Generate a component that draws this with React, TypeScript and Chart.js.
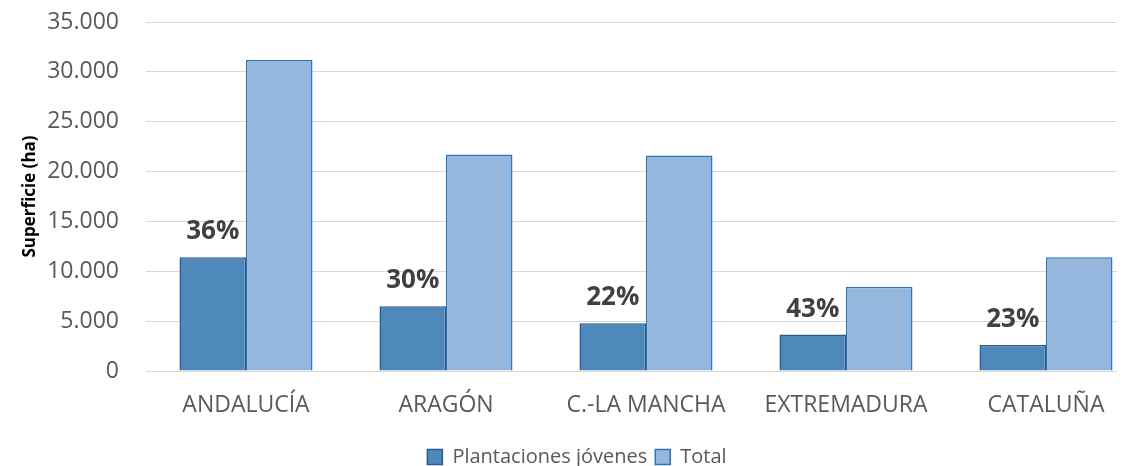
import React, { useEffect, useRef } from "react";
import { Chart, registerables } from "chart.js";

Chart.register(...registerables);

const categories = ["ANDALUCÍA", "ARAGÓN", "C.-LA MANCHA", "EXTREMADURA", "CATALUÑA"];
const youngPlantations = [11400, 6500, 4800, 3650, 2600];
const totalArea = [31200, 21700, 21600, 8450, 11400];
const shareLabels = ["36%", "30%", "22%", "43%", "23%"];
const seriesNames = ["Plantaciones jóvenes", "Total"];

const FONT = "'Open Sans', 'Noto Sans', sans-serif";

const shareLabelPlugin = {
  id: "shareLabels",
  afterDatasetsDraw(chart: any) {
    const meta = chart.getDatasetMeta(0);
    const ctx = chart.ctx;
    ctx.save();
    ctx.font = `bold 26px ${FONT}`;
    ctx.fillStyle = "#404040";
    ctx.textAlign = "center";
    ctx.textBaseline = "alphabetic";
    meta.data.forEach((bar: any, i: number) => {
      ctx.fillText(shareLabels[i], bar.x, bar.y - 18);
    });
    ctx.restore();
  },
};

export default function App() {
  const ref = useRef<HTMLCanvasElement | null>(null);

  useEffect(() => {
    if (!ref.current) return;
    const chart = new Chart(ref.current, {
      type: "bar",
      data: {
        labels: categories,
        datasets: [
          {
            label: seriesNames[0],
            data: youngPlantations,
            backgroundColor: "#4F88BB",
            borderColor: "#2C5A8A",
            borderWidth: 1.5,
            categoryPercentage: 0.665,
            barPercentage: 1,
          },
          {
            label: seriesNames[1],
            data: totalArea,
            backgroundColor: "#95B7DE",
            borderColor: "#2E75B6",
            borderWidth: 1.5,
            categoryPercentage: 0.665,
            barPercentage: 1,
          },
        ],
      },
      options: {
        responsive: false,
        animation: false,
        layout: { padding: { top: 14, right: 12, left: 0, bottom: 0 } },
        plugins: {
          legend: {
            position: "bottom",
            labels: {
              font: { family: FONT, size: 20 },
              color: "#595959",
              boxWidth: 15,
              boxHeight: 15,
              padding: 8,
            },
          },
          tooltip: { enabled: false },
        },
        scales: {
          x: {
            grid: { display: false, drawTicks: false },
            border: { display: false },
            ticks: {
              font: { family: FONT, size: 23 },
              color: "#595959",
              padding: 21,
              maxRotation: 0,
              autoSkip: false,
            },
            afterFit(scale: any) {
              scale.height = 68;
            },
          },
          y: {
            min: 0,
            max: 35000,
            grid: { color: "#D9D9D9", lineWidth: 1, drawTicks: false },
            border: { display: false },
            ticks: {
              stepSize: 5000,
              font: { family: FONT, size: 23 },
              color: "#595959",
              padding: 27,
              callback: (v: any) => Number(v).toLocaleString("de-DE"),
            },
            title: {
              display: true,
              text: "Superficie (ha)",
              font: { family: FONT, size: 17, weight: "bold" },
              color: "#000000",
              padding: { top: 12, bottom: 0 },
            },
            afterFit(scale: any) {
              scale.width = 138;
              scale.paddingTop = 12;
              scale.paddingBottom = 12;
            },
          },
        },
      },
      plugins: [shareLabelPlugin],
    });
    return () => chart.destroy();
  }, []);

  return (
    <div style={{ width: 1117, height: 458, overflow: "hidden" }}>
      <canvas ref={ref} width={1150} height={469} style={{ display: "block" }} />
    </div>
  );
}
